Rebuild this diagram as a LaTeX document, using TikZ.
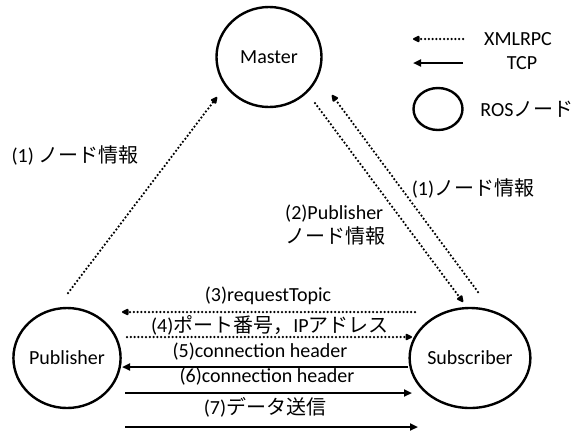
\documentclass[tikz,border=0pt]{standalone}
\usepackage{fontspec}
\setmainfont{Carlito}
\newfontfamily\jp{Noto Sans CJK JP}
\usetikzlibrary{shapes.geometric,arrows.meta}

\begin{document}
\begin{tikzpicture}[x=1pt,y=-1pt,
  txt/.style={font=\fontsize{20}{24}\selectfont},
  ros/.style={draw,ellipse,line width=2.4pt,minimum width=105pt,minimum height=100pt,inner sep=0pt,txt},
  xmlrpc/.style={line width=2.5pt,dash pattern=on 0pt off 3.8pt,line cap=round,-{Triangle[length=8pt,width=7pt,round]}},
  tcp/.style={line width=2.1pt,-{Triangle[length=8pt,width=7pt]}},
  lbl/.style={txt,inner sep=0pt}]
\useasboundingbox (0,0) rectangle (580,432);

% nodes
\node[ros] (master) at (269,57) {Master};
\node[ros] (pub) at (67,358) {Publisher};
\node[ros] (sub) at (470,358) {Subscriber};

% legend
\coordinate (xmlA) at (463,39);
\coordinate (xmlB) at (413,39);
\coordinate (tcpA) at (463,63);
\coordinate (tcpB) at (413,63);
\draw[xmlrpc] (xmlA) -- (xmlB);
\draw[tcp] (tcpA) -- (tcpB);
\node[draw,ellipse,line width=2.4pt,minimum width=49pt,minimum height=42pt] (legros) at (438,109) {};
\node[lbl] (legxml) at (518,39) {XMLRPC};
\node[lbl] (legtcp) at (522,63) {TCP};
\node[lbl] (legnode) at (527,109) {ROS{\jp ノード}};

% XMLRPC to master
\draw[xmlrpc] ([shift={(1,-65)}]pub.center) -- ([shift={(-52,40)}]master.center);
\draw[xmlrpc] ([shift={(46,46)}]master.center) -- ([shift={(-7,-56)}]sub.center);
\draw[xmlrpc] ([shift={(8,-66)}]sub.center) -- ([shift={(63,38)}]master.center);
\node[lbl] (l1a) at (75,155) {(1) {\jp ノード情報}};
\node[lbl] (l1b) at (473,188) {(1){\jp ノード情報}};
\node[lbl,anchor=west,align=left] (l2) at (285,225) {(2)Publisher\\{\jp ノード情報}};

% publisher <-> subscriber
\draw[xmlrpc] ([shift={(-55,-46)}]sub.center) -- ([shift={(55,-46)}]pub.center);
\draw[xmlrpc] ([shift={(60,-21)}]pub.center) -- ([shift={(-58,-21)}]sub.center);
\draw[tcp] ([shift={(-62,9)}]sub.center) -- ([shift={(55,9)}]pub.center);
\draw[tcp] ([shift={(58,35)}]pub.center) -- ([shift={(-58,35)}]sub.center);
\draw[tcp] ([shift={(58,69)}]pub.center) -- ([shift={(-52,69)}]sub.center);
\node[lbl] (l3) at (268,296) {(3)requestTopic};
\node[lbl] (l4) at (270,325) {(4){\jp ポート番号，}IP{\jp アドレス}};
\node[lbl] (l5) at (260,352) {(5)connection header};
\node[lbl] (l6) at (267,377) {(6)connection header};
\node[lbl] (l7) at (265,407) {(7){\jp データ送信}};
\end{tikzpicture}
\end{document}
